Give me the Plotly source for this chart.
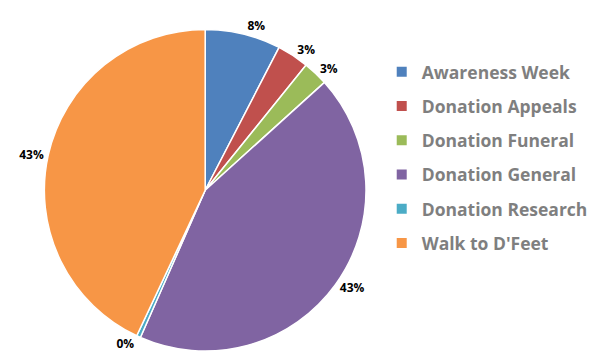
import plotly.graph_objects as go

labels = ["Awareness Week", "Donation Appeals", "Donation Funeral",
          "Donation General", "Donation Research", "Walk to D'Feet"]
values = [7.6, 3.2, 2.5, 43.3, 0.4, 43.0]
colors = ["#4F81BD", "#C0504D", "#9BBB59", "#8064A2", "#4BACC6", "#F79646"]

fig = go.Figure()
fig.add_trace(go.Pie(
    labels=labels, values=values, sort=False, direction="clockwise", rotation=0,
    marker=dict(colors=colors, line=dict(color="white", width=1.5)),
    textinfo="percent", texttemplate="%{percent:.0%}", textposition="outside",
    outsidetextfont=dict(family="Open Sans", size=12, color="#000000", weight="bold"),
    showlegend=False,
    domain=dict(x=[0.02, 0.66], y=[0.022, 0.918]),
))
for lab, col in zip(labels, colors):
    fig.add_trace(go.Scatter(x=[None], y=[None], mode="markers", name=lab,
                             legendgroup=lab,
                             marker=dict(symbol="square", size=10, color=col)))

fig.update_layout(
    width=593, height=359,
    margin=dict(l=0, r=0, t=0, b=0),
    paper_bgcolor="white", plot_bgcolor="white",
    xaxis=dict(visible=False), yaxis=dict(visible=False),
    legend=dict(x=0.675, y=0.85, xanchor="left", yanchor="top",
                font=dict(family="Open Sans", size=17.5, color="#7F7F7F", weight="bold"),
                tracegroupgap=8.5, itemwidth=30),
)
fig.write_html("out.html")
